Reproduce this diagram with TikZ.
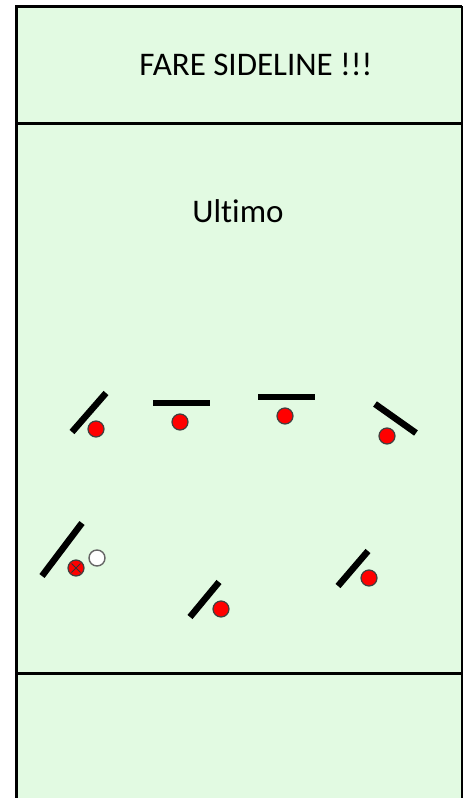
\documentclass[tikz,border=0pt]{standalone}
\usepackage{fontspec}
\setmainfont{Carlito}[Ligatures=NoCommon]
\usetikzlibrary{calc}
\definecolor{fieldgreen}{RGB}{226,250,226}
\definecolor{playerred}{RGB}{255,0,0}
\begin{document}
\begin{tikzpicture}[x=1pt,y=-1pt,
  bar/.style={line width=6.5pt,black},
  player/.style={circle,draw=black!75,line width=1.2pt,fill=playerred,minimum size=16pt,inner sep=0pt},
  disc/.style={circle,draw=black!60,line width=1.4pt,fill=white,minimum size=16pt,inner sep=0pt},
  label/.style={font=\fontsize{33}{36}\selectfont,inner sep=0pt,anchor=base}]
\useasboundingbox (0,0) rectangle (464,798);
\fill[white] (0,0) rectangle (464,798);
\fill[fieldgreen] (16,6) rectangle (462,810);
\draw[line width=3pt] (16,810) -- (16,6) -- (462,6);
\draw[line width=2pt] (462,6) -- (462,810);
\draw[line width=3pt] (16,123) -- (462,123);
\draw[line width=3pt] (16,673) -- (462,673);
\node[label] (title) at (256,75) {FARE SIDELINE !!!};
\node[label] (ultimo) at (238,222) {Ultimo};
% row 1
\draw[bar] (72,432) -- (106,393);
\node[player] (p1) at (96,429) {};
\draw[bar] (153,403) -- (210,403);
\node[player] (p2) at (180,422) {};
\draw[bar] (258,397) -- (315,397);
\node[player] (p3) at (285,416) {};
\draw[bar] (375,404) -- (416,433);
\node[player] (p4) at (387,436) {};
% row 2
\draw[bar] (42,576) -- (82,523);
\node[player] (p5) at (76,568) {};
\draw[black!80,line width=1pt] ($(p5)+(-4.5,-4.5)$) -- ($(p5)+(4.5,4.5)$)
  ($(p5)+(-4.5,4.5)$) -- ($(p5)+(4.5,-4.5)$);
\node[disc] (ball) at (97,558) {};
\draw[bar] (190,617) -- (219,582);
\node[player] (p6) at (221,609) {};
\draw[bar] (338,586) -- (368,551);
\node[player] (p7) at (369,578) {};
\end{tikzpicture}
\end{document}
